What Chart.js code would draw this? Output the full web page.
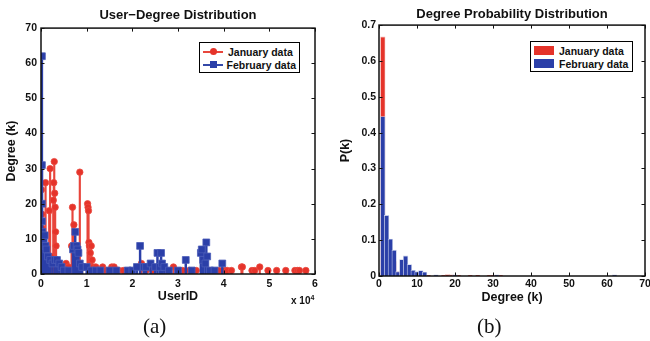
<!DOCTYPE html>
<html>
<head>
<meta charset="utf-8">
<script src="https://cdn.jsdelivr.net/npm/chart.js@4.4.1/dist/chart.umd.min.js"></script>
<style>
  html, body { margin: 0; padding: 0; background: #fff; overflow: hidden; }
  body { width: 650px; height: 341px; position: relative; font-family: "Liberation Sans", Arial, sans-serif; }
  .wrap { position: absolute; top: 0; height: 310px; width: 330px; }
  .legend { position: absolute; background: #fff; border: 1.5px solid #000; font-weight: bold; font-size: 10.5px; color: #111; padding: 2px 3px 1px 3px; box-sizing: border-box; }
  .legend div { display: flex; align-items: center; height: 13px; white-space: nowrap; }
  .swatch { display: inline-block; position: relative; width: 20px; height: 9px; margin-right: 5px; }
  .caption { position: absolute; font-family: "Liberation Serif", "DejaVu Serif", serif; font-size: 21px; color: #111; }
  .mult { position: absolute; font-weight: bold; font-size: 10px; color: #111; }
</style>
</head>
<body>
<div class="wrap" style="left:0"><canvas id="left-chart" width="330" height="310"></canvas></div>
<div class="wrap" style="left:330px"><canvas id="right-chart" width="330" height="310"></canvas></div>

<div class="legend" style="left:199px; top:42px; width:101px; height:31px;">
  <div><span class="swatch"><span style="position:absolute;left:0;top:4px;width:20px;height:1.5px;background:#e8463c"></span><span style="position:absolute;left:7px;top:1px;width:7px;height:7px;border-radius:50%;background:#e5332a"></span></span>January data</div>
  <div><span class="swatch"><span style="position:absolute;left:0;top:4px;width:20px;height:1.5px;background:#3449a8"></span><span style="position:absolute;left:7px;top:1px;width:7px;height:7px;background:#2b3fa8"></span></span>February data</div>
</div>
<div class="legend" style="left:530px; top:41px; width:103px; height:31px;">
  <div><span class="swatch" style="background:#e5332a"></span>January data</div>
  <div><span class="swatch" style="background:#2b3fa8"></span>February data</div>
</div>

<div class="mult" style="left:291px; top:294px;">x 10<sup style="font-size:7px">4</sup></div>
<div class="caption" style="left:143px; top:314px;">(a)</div>
<div class="caption" style="left:477px; top:314px;">(b)</div>

<script>
// ---- data (a): user id vs degree ----
const janIds = [100, 200, 300, 500, 1000, 1200, 1800, 2000, 2200, 2700, 2800, 2900, 3000, 3100, 3200, 3300, 3500, 4500, 5500, 6000,
  6700, 6900, 7200, 7500, 8500, 9000, 10200, 10300, 10400, 10500, 10600, 10800, 11000, 11200, 11500, 12000, 13500, 14000, 15500, 16000,
  17000, 18000, 19500, 22000, 23000, 24500, 27500, 29000, 31000, 32500, 34000, 37000, 39000, 40300, 40800, 41700, 43900, 44100, 46200,
  46800, 47900, 49700, 51600, 53600, 55600, 56200, 56600, 58000];
const janDegree = [24, 17, 13, 8, 26, 4, 18, 30, 5, 21, 26, 32, 23, 19, 12, 8, 3, 1, 3, 2,
  8, 19, 14, 5, 29, 2, 20, 19, 18, 9, 8, 6, 8, 4, 2, 2, 2, 1, 2, 2,
  1, 1, 1, 3, 1, 1, 1, 2, 1, 1, 1, 1, 1, 1, 1, 1, 2, 2, 1,
  1, 2, 1, 1, 1, 1, 1, 1, 1];

const febIds = [200, 200, 200, 200, 300, 400, 600, 800, 1000, 1200, 1500, 2000, 2500, 3000, 3500, 4000, 4500, 5000, 6000, 7000,
  7200, 7500, 7800, 8000, 8200, 8500, 9000, 10000, 11000, 12000, 13000, 15000, 16500, 19000, 20000, 21000, 21700, 22500, 23000,
  24000, 25000, 25500, 26000, 26300, 26500, 27000, 28000, 30000, 31700, 33000, 35000, 35200, 35500, 36000, 36200, 36400, 37000,
  38000, 39700];
const febDegree = [62, 31, 20, 15, 12, 11, 10, 11, 8, 7, 5, 4, 3, 4, 4, 3, 2, 1, 1, 7,
  8, 12, 8, 7, 6, 3, 2, 2, 1, 1, 1, 1, 1, 1, 1, 2, 8, 2, 2,
  3, 2, 6, 2, 6, 3, 2, 1, 1, 4, 1, 6, 7, 4, 3, 9, 5, 1,
  1, 3];

// ---- data (b): degree probability ----
const janDegrees = [1, 2, 3, 4, 5, 6, 7, 8, 9, 10, 11, 12, 13, 17, 18, 19, 20, 21, 24, 26, 29, 30, 32];
const janProb = [0.667, 0.16, 0.08, 0.04, 0.012, 0.008, 0.006, 0.01, 0.008, 0.004, 0.003, 0.002, 0.002, 0.002, 0.004, 0.003, 0.002, 0.002, 0.002, 0.002, 0.002, 0.002, 0.002];
const febDegrees = [1, 2, 3, 4, 5, 6, 7, 8, 9, 10, 11, 12, 15, 20, 31, 62];
const febProb = [0.445, 0.169, 0.103, 0.072, 0.012, 0.046, 0.056, 0.032, 0.016, 0.012, 0.015, 0.011, 0.003, 0.003, 0.003, 0.003];

const userTicks = [0, 10000, 20000, 30000, 40000, 50000, 60000];

const RED = '#e5332a';
const BLUE = '#2b3fa8';
const FONT = 'Liberation Sans';

const toXY = (xs, ys) => xs.map((x, i) => ({ x, y: ys[i] }));

// matlab style box + inward ticks
const boxPlugin = {
  id: 'matlabBox',
  afterDraw(c) {
    const { ctx, chartArea: a, scales } = c;
    ctx.save();
    ctx.strokeStyle = '#111';
    ctx.lineWidth = 1;
    const len = 3.5;
    scales.x.ticks.forEach((t) => {
      const px = Math.round(scales.x.getPixelForValue(t.value)) + 0.5;
      ctx.beginPath();
      ctx.moveTo(px, a.bottom); ctx.lineTo(px, a.bottom - len);
      ctx.moveTo(px, a.top); ctx.lineTo(px, a.top + len);
      ctx.stroke();
    });
    scales.y.ticks.forEach((t) => {
      const py = Math.round(scales.y.getPixelForValue(t.value)) + 0.5;
      ctx.beginPath();
      ctx.moveTo(a.left, py); ctx.lineTo(a.left + len, py);
      ctx.moveTo(a.right, py); ctx.lineTo(a.right - len, py);
      ctx.stroke();
    });
    ctx.lineWidth = 1.5;
    ctx.strokeRect(a.left, a.top, a.right - a.left, a.bottom - a.top);
    ctx.restore();
  },
};

const tickFont = { family: FONT, size: 10.5, weight: 'bold' };
const titleFont = { family: FONT, size: 13, weight: 'bold' };
const axisFont = { family: FONT, size: 12.5, weight: 'bold' };

// (a) stem plot
new Chart(document.getElementById('left-chart'), {
  type: 'bar',
  data: {
    datasets: [
      {
        type: 'scatter', data: toXY(febIds, febDegree), pointStyle: 'rect', pointRadius: 4.8,
        backgroundColor: BLUE, borderColor: '#4a5cb8', borderWidth: 0.8, order: 1,
      },
      {
        data: toXY(febIds, febDegree), backgroundColor: BLUE, barThickness: 1.8, grouped: false, order: 2,
      },
      {
        type: 'scatter', data: toXY(janIds, janDegree), pointStyle: 'circle', pointRadius: 3.2,
        backgroundColor: RED, borderColor: '#ea4a40', borderWidth: 0.8, order: 3,
      },
      {
        data: toXY(janIds, janDegree), backgroundColor: '#e8453b', barThickness: 1.5, grouped: false, order: 4,
      },
    ],
  },
  options: {
    responsive: false,
    animation: false,
    layout: { padding: { right: 15 } },
    plugins: {
      legend: { display: false },
      tooltip: { enabled: false },
      title: {
        display: true, text: 'User\u2212Degree Distribution', font: titleFont, color: '#111',
        fullSize: false, padding: { top: 8, bottom: 4.5 },
      },
    },
    scales: {
      x: {
        type: 'linear', min: 0, max: 60000, offset: false,
        grid: { display: false, drawTicks: false }, border: { display: false },
        afterBuildTicks(s) { s.ticks = userTicks.map((v) => ({ value: v })); },
        afterFit(s) { s.height = 36; },
        ticks: { font: tickFont, color: '#111', padding: 4, maxRotation: 0, callback: (v) => v / 10000 },
        title: { display: true, text: 'UserID', font: axisFont, color: '#111', padding: { top: 0, bottom: 6 } },
      },
      y: {
        min: 0, max: 70,
        grid: { display: false, drawTicks: false }, border: { display: false },
        afterFit(s) { s.width = 41; },
        ticks: { font: tickFont, color: '#111', padding: 4, stepSize: 10 },
        title: { display: true, text: 'Degree (k)', font: axisFont, color: '#111', padding: { top: 4, bottom: 0 } },
      },
    },
  },
  plugins: [boxPlugin],
});

// (b) degree probability bars
new Chart(document.getElementById('right-chart'), {
  type: 'bar',
  data: {
    datasets: [
      {
        data: toXY(febDegrees, febProb), backgroundColor: BLUE, borderColor: '#c3cbe8', borderWidth: 0.8,
        barThickness: 4.6, grouped: false, order: 1,
      },
      {
        data: toXY(janDegrees, janProb), backgroundColor: RED, borderColor: '#f2b0ab', borderWidth: 0.8,
        barThickness: 4.6, grouped: false, order: 2,
      },
    ],
  },
  options: {
    responsive: false,
    animation: false,
    layout: { padding: { right: 15 } },
    plugins: {
      legend: { display: false },
      tooltip: { enabled: false },
      title: {
        display: true, text: 'Degree Probability Distribution', font: titleFont, color: '#111',
        fullSize: false, padding: { top: 7, bottom: 2.5 },
      },
    },
    scales: {
      x: {
        type: 'linear', min: 0, max: 70, offset: false,
        grid: { display: false, drawTicks: false }, border: { display: false },
        afterFit(s) { s.height = 34; },
        ticks: { font: tickFont, color: '#111', padding: 2, stepSize: 10, maxRotation: 0 },
        title: { display: true, text: 'Degree (k)', font: axisFont, color: '#111', padding: { top: 0, bottom: 5 } },
      },
      y: {
        min: 0, max: 0.7,
        grid: { display: false, drawTicks: false }, border: { display: false },
        afterFit(s) { s.width = 49; },
        ticks: { font: tickFont, color: '#111', padding: 3, stepSize: 0.1 },
        title: { display: true, text: 'P(k)', font: axisFont, color: '#111', padding: { top: 8, bottom: 0 } },
      },
    },
  },
  plugins: [boxPlugin],
});
</script>
</body>
</html>
